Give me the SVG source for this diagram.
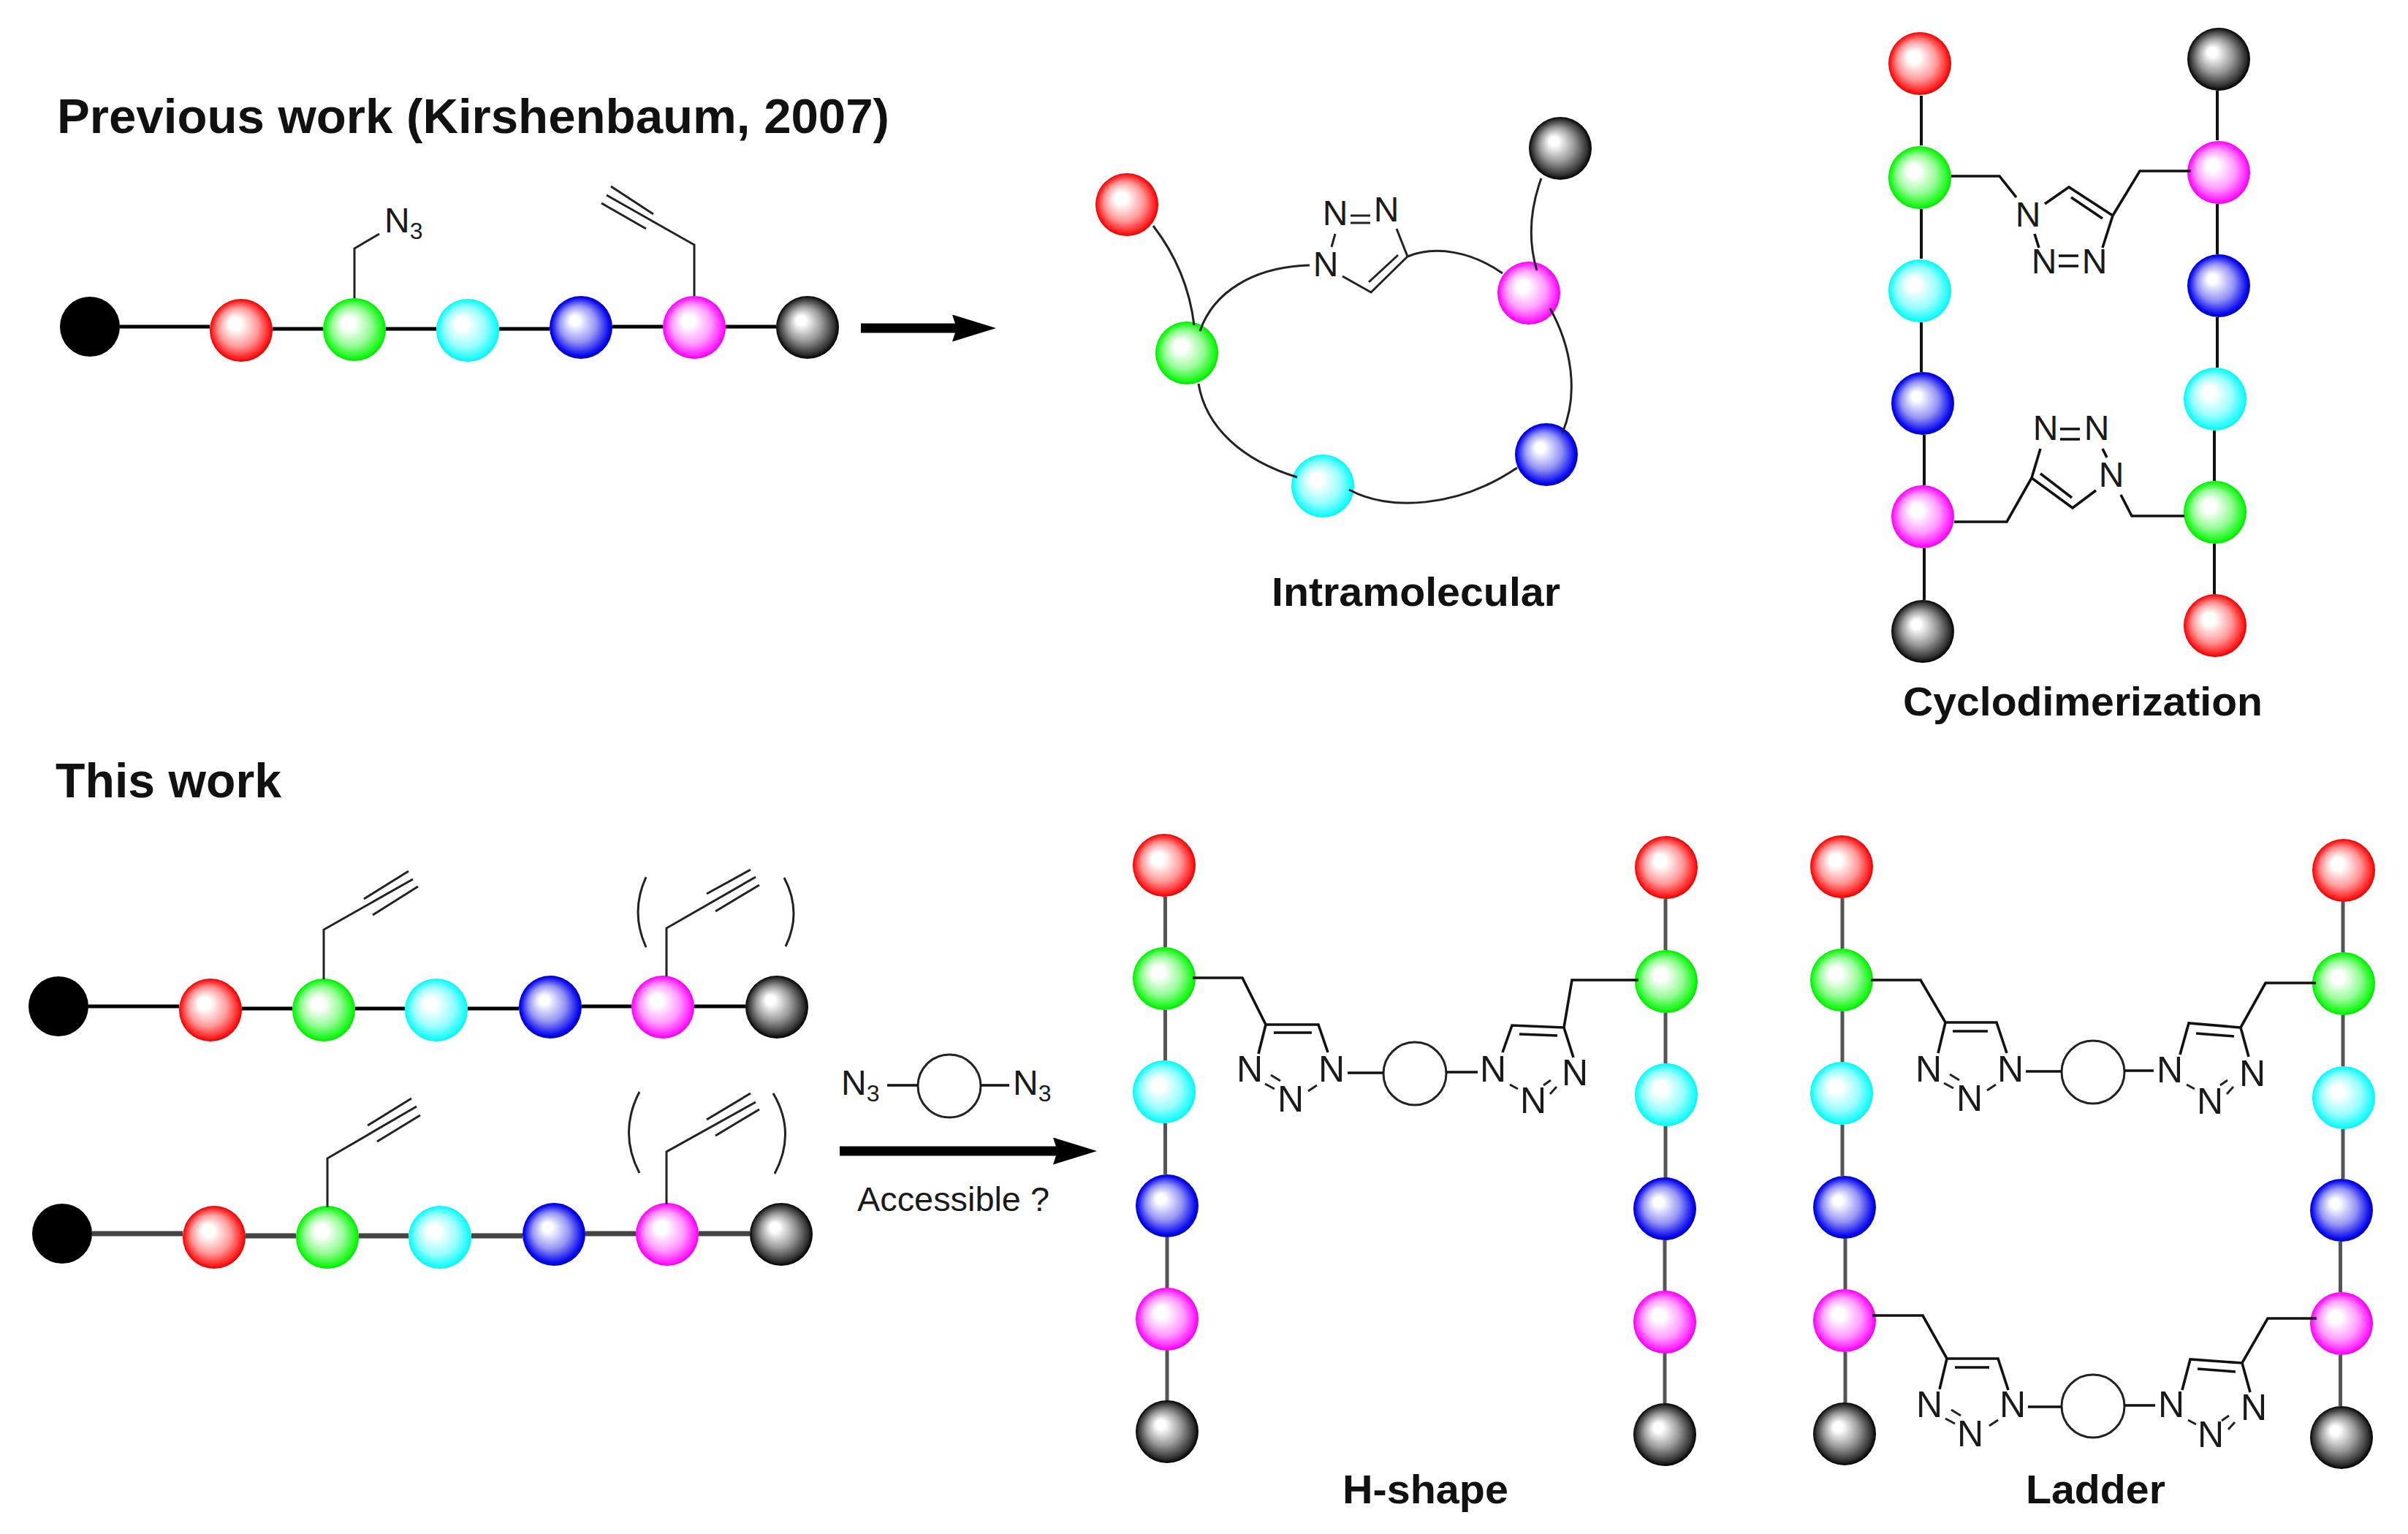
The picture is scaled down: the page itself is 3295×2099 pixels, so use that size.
<svg xmlns="http://www.w3.org/2000/svg" width="3295" height="2099" viewBox="0 0 3295 2099">
<style>
text{font-family:"Liberation Sans",Arial,sans-serif;fill:#1a1a1a}
.h{font-weight:bold;fill:#111}
.lab{font-size:56px;font-weight:bold;fill:#111}
.n{font-size:50px;text-anchor:middle}
.n2{font-size:48px;text-anchor:middle}
.r{fill:url(#gr)}.g{fill:url(#gg)}.c{fill:url(#gc)}.b{fill:url(#gb)}.m{fill:url(#gm)}.k{fill:url(#gk)}.d{fill:#000}
.chain{stroke:#000;stroke-width:5;fill:none}
.chainG{stroke:#444;stroke-width:7;fill:none}
.v{stroke:#111;stroke-width:4;fill:none}
.vG{stroke:#555;stroke-width:5;fill:none}
.bond{stroke:#222;stroke-width:3;fill:none}
.arm{stroke:#111;stroke-width:3.6;fill:none;stroke-linejoin:miter}
.curve{stroke:#222;stroke-width:3;fill:none}
.ring{stroke:#222;stroke-width:3;fill:#fff}
.arrow{stroke:#000;stroke-width:13;fill:none;marker-end:url(#head)}
</style>
<defs>
<radialGradient id="gr" cx="0.5" cy="0.5" r="0.5" fx="0.38" fy="0.37"><stop offset="0" stop-color="#fff"/><stop offset="0.2" stop-color="#fff"/><stop offset="0.62" stop-color="#ff9a9a"/><stop offset="0.94" stop-color="#ff1515"/><stop offset="1" stop-color="#d80000"/></radialGradient>
<radialGradient id="gg" cx="0.5" cy="0.5" r="0.5" fx="0.38" fy="0.37"><stop offset="0" stop-color="#fff"/><stop offset="0.2" stop-color="#fff"/><stop offset="0.62" stop-color="#96fb96"/><stop offset="0.94" stop-color="#10f810"/><stop offset="1" stop-color="#00e000"/></radialGradient>
<radialGradient id="gc" cx="0.5" cy="0.5" r="0.5" fx="0.38" fy="0.37"><stop offset="0" stop-color="#fff"/><stop offset="0.2" stop-color="#fff"/><stop offset="0.65" stop-color="#96fdfd"/><stop offset="0.96" stop-color="#10fbfb"/><stop offset="1" stop-color="#00f0f0"/></radialGradient>
<radialGradient id="gb" cx="0.5" cy="0.5" r="0.5" fx="0.38" fy="0.37"><stop offset="0" stop-color="#fff"/><stop offset="0.15" stop-color="#fff"/><stop offset="0.58" stop-color="#9494f4"/><stop offset="0.92" stop-color="#0a0af0"/><stop offset="1" stop-color="#0000b8"/></radialGradient>
<radialGradient id="gm" cx="0.5" cy="0.5" r="0.5" fx="0.38" fy="0.37"><stop offset="0" stop-color="#fff"/><stop offset="0.2" stop-color="#fff"/><stop offset="0.62" stop-color="#ff9cff"/><stop offset="0.95" stop-color="#ff10ff"/><stop offset="1" stop-color="#e800e8"/></radialGradient>
<radialGradient id="gk" cx="0.5" cy="0.5" r="0.5" fx="0.38" fy="0.37"><stop offset="0" stop-color="#fff"/><stop offset="0.15" stop-color="#fff"/><stop offset="0.55" stop-color="#9a9a9a"/><stop offset="0.88" stop-color="#333"/><stop offset="1" stop-color="#000"/></radialGradient>
<marker id="head" markerUnits="userSpaceOnUse" viewBox="0 0 60 37" refX="8" refY="18.5" markerWidth="60" markerHeight="37" orient="auto"><path d="M0 0L60 18.5L0 37L6 18.5Z" fill="#000"/></marker>
</defs>
<rect width="3295" height="2099" fill="#fff"/>

<text class="h" x="78" y="182" font-size="66" textLength="1139" lengthAdjust="spacingAndGlyphs">Previous work (Kirshenbaum, 2007)</text>
<text class="h" x="76" y="1091" font-size="66" textLength="309" lengthAdjust="spacingAndGlyphs">This work</text>
<text class="lab" x="1740" y="829" textLength="395" lengthAdjust="spacingAndGlyphs">Intramolecular</text>
<text class="lab" x="2604" y="979" textLength="492" lengthAdjust="spacingAndGlyphs">Cyclodimerization</text>
<text class="lab" x="1837" y="2057" textLength="227" lengthAdjust="spacingAndGlyphs">H-shape</text>
<text class="lab" x="2772" y="2057" textLength="191" lengthAdjust="spacingAndGlyphs">Ladder</text>

<g id="nodes">
<g id="c1-black"><circle class="d" cx="123" cy="447" r="41"/></g>
<g id="c1-red"><circle class="r" cx="330" cy="452" r="43"/></g>
<g id="c1-green"><circle class="g" cx="485" cy="451" r="43"/></g>
<g id="c1-cyan"><circle class="c" cx="640" cy="452" r="43"/></g>
<g id="c1-blue"><circle class="b" cx="795" cy="448" r="43"/></g>
<g id="c1-magenta"><circle class="m" cx="950" cy="448" r="43"/></g>
<g id="c1-gray"><circle class="k" cx="1105" cy="448" r="43"/></g>

<g id="im-red"><circle class="r" cx="1542" cy="280" r="43"/></g>
<g id="im-gray"><circle class="k" cx="2135" cy="203" r="43"/></g>
<g id="im-green"><circle class="g" cx="1624" cy="483" r="43"/></g>
<g id="im-magenta"><circle class="m" cx="2092" cy="401" r="43"/></g>
<g id="im-blue"><circle class="b" cx="2116" cy="622" r="43"/></g>
<g id="im-cyan"><circle class="c" cx="1810" cy="665" r="43"/></g>

<g id="cy-l-red"><circle class="r" cx="2627" cy="87" r="43"/></g>
<g id="cy-l-green"><circle class="g" cx="2627" cy="243" r="43"/></g>
<g id="cy-l-cyan"><circle class="c" cx="2627" cy="398" r="43"/></g>
<g id="cy-l-blue"><circle class="b" cx="2631" cy="552" r="43"/></g>
<g id="cy-l-magenta"><circle class="m" cx="2631" cy="707" r="43"/></g>
<g id="cy-l-gray"><circle class="k" cx="2631" cy="864" r="43"/></g>
<g id="cy-r-gray"><circle class="k" cx="3036" cy="81" r="43"/></g>
<g id="cy-r-magenta"><circle class="m" cx="3036" cy="236" r="43"/></g>
<g id="cy-r-blue"><circle class="b" cx="3036" cy="391" r="43"/></g>
<g id="cy-r-cyan"><circle class="c" cx="3031" cy="546" r="43"/></g>
<g id="cy-r-green"><circle class="g" cx="3031" cy="701" r="43"/></g>
<g id="cy-r-red"><circle class="r" cx="3031" cy="856" r="43"/></g>

<g id="c2-black"><circle class="d" cx="80" cy="1377" r="41"/></g>
<g id="c2-red"><circle class="r" cx="288" cy="1382" r="43"/></g>
<g id="c2-green"><circle class="g" cx="443" cy="1382" r="43"/></g>
<g id="c2-cyan"><circle class="c" cx="597" cy="1382" r="43"/></g>
<g id="c2-blue"><circle class="b" cx="753" cy="1378" r="43"/></g>
<g id="c2-magenta"><circle class="m" cx="907" cy="1378" r="43"/></g>
<g id="c2-gray"><circle class="k" cx="1063" cy="1378" r="43"/></g>

<g id="c3-black"><circle class="d" cx="85" cy="1688" r="41"/></g>
<g id="c3-red"><circle class="r" cx="293" cy="1693" r="43"/></g>
<g id="c3-green"><circle class="g" cx="448" cy="1693" r="43"/></g>
<g id="c3-cyan"><circle class="c" cx="602" cy="1693" r="43"/></g>
<g id="c3-blue"><circle class="b" cx="758" cy="1689" r="43"/></g>
<g id="c3-magenta"><circle class="m" cx="913" cy="1689" r="43"/></g>
<g id="c3-gray"><circle class="k" cx="1069" cy="1689" r="43"/></g>

<g id="h-l-red"><circle class="r" cx="1593" cy="1184" r="43"/></g>
<g id="h-l-green"><circle class="g" cx="1593" cy="1339" r="43"/></g>
<g id="h-l-cyan"><circle class="c" cx="1593" cy="1494" r="43"/></g>
<g id="h-l-blue"><circle class="b" cx="1597" cy="1650" r="43"/></g>
<g id="h-l-magenta"><circle class="m" cx="1597" cy="1805" r="43"/></g>
<g id="h-l-gray"><circle class="k" cx="1597" cy="1959" r="43"/></g>
<g id="h-r-red"><circle class="r" cx="2280" cy="1187" r="43"/></g>
<g id="h-r-green"><circle class="g" cx="2280" cy="1343" r="43"/></g>
<g id="h-r-cyan"><circle class="c" cx="2280" cy="1498" r="43"/></g>
<g id="h-r-blue"><circle class="b" cx="2278" cy="1654" r="43"/></g>
<g id="h-r-magenta"><circle class="m" cx="2278" cy="1809" r="43"/></g>
<g id="h-r-gray"><circle class="k" cx="2278" cy="1963" r="43"/></g>

<g id="l-l-red"><circle class="r" cx="2520" cy="1186" r="43"/></g>
<g id="l-l-green"><circle class="g" cx="2520" cy="1341" r="43"/></g>
<g id="l-l-cyan"><circle class="c" cx="2520" cy="1496" r="43"/></g>
<g id="l-l-blue"><circle class="b" cx="2524" cy="1652" r="43"/></g>
<g id="l-l-magenta"><circle class="m" cx="2524" cy="1807" r="43"/></g>
<g id="l-l-gray"><circle class="k" cx="2524" cy="1962" r="43"/></g>
<g id="l-r-red"><circle class="r" cx="3207" cy="1191" r="43"/></g>
<g id="l-r-green"><circle class="g" cx="3207" cy="1346" r="43"/></g>
<g id="l-r-cyan"><circle class="c" cx="3207" cy="1502" r="43"/></g>
<g id="l-r-blue"><circle class="b" cx="3204" cy="1656" r="43"/></g>
<g id="l-r-magenta"><circle class="m" cx="3204" cy="1811" r="43"/></g>
<g id="l-r-gray"><circle class="k" cx="3204" cy="1967" r="43"/></g>

<g id="linker-reagent"><circle class="ring" cx="1299" cy="1486" r="43"/></g>
<g id="linker-h"><circle class="ring" cx="1936" cy="1469" r="43"/></g>
<g id="linker-l-top"><circle class="ring" cx="2864" cy="1467" r="43"/></g>
<g id="linker-l-bottom"><circle class="ring" cx="2864" cy="1924" r="43"/></g>
</g>

<g id="connectors">
<path class="chain" d="M164 447H287M373 450H442M528 450H597M683 450H752M838 447H907M993 447H1062"/>
<path class="bond" d="M485 408V340L519 320M950 405V335L830 267M894 293L836 255M884 313L823 278"/>
<path class="arrow" d="M1178 449H1311"/>

<path class="curve" d="M1578 309Q1625 370 1634 445M2109 244Q2085 310 2103 370M1642 453C1660 400 1715 365 1792 363M1926 351C1965 335 2015 345 2056 374M2121 422C2148 470 2162 535 2138 592M2076 640C1995 695 1900 700 1846 670M1775 653C1700 630 1650 585 1640 525"/>
<path class="bond" d="M1837 378L1876 400L1926 351L1911 313M1873 386L1913 349M1848 295H1875M1848 305H1875M1827 320L1822 338"/>

<path class="v" d="M2629 131V199M2629 286V354M2629 441V509M2633 595V664M2633 750V821M3034 124V192M3034 279V348M3034 434V503M3030 589V658M3030 744V813"/>
<path class="arm" d="M2670 241H2736L2759 270M2798 279L2831 256L2891 295L2877 339M2834 270L2877 299M2891 295L2928 234H2998M2784 320L2790 339M2817 350H2844M2817 364H2844"/>
<path class="arm" d="M2674 714H2746L2780 654L2792 614M2780 654L2836 695L2868 671M2792 648L2835 681M2902 677L2917 706H2989M2877 614L2883 626M2819 587H2846M2819 601H2846"/>

<path class="chain" d="M121 1377H245M331 1380H400M486 1380H554M640 1380H710M796 1377H864M950 1377H1020"/>
<path class="bond" d="M443 1340V1272L565 1203M498 1230L559 1192M510 1252L572 1213M912 1336V1270L1034 1200M967 1223L1027 1190M979 1247L1039 1211"/>
<path class="bond" d="M884 1200Q862 1248 884 1296M1073 1201Q1098 1248 1075 1295"/>
<path class="chainG" d="M126 1688H250M336 1691H405M491 1691H559M645 1691H715M801 1688H870M956 1688H1026"/>
<path class="bond" d="M448 1652V1585L570 1514M503 1540L563 1503M516 1562L575 1526M912 1648V1576L1034 1508M967 1532L1027 1496M979 1554L1039 1518"/>
<path class="bond" d="M875 1494Q846 1550 875 1605M1058 1496Q1090 1550 1060 1606"/>
<path class="arm" d="M1214 1485H1256M1342 1485H1381"/>
<path class="arrow" d="M1149 1575H1449"/>

<path class="vG" d="M1594.500 1227V1296M1594.500 1382V1451M1594.500 1537V1607M1597 1693V1762M1597 1848V1916M2279 1230V1300M2279 1386V1455M2279 1541V1611M2278 1697V1766M2278 1852V1920"/>
<path class="arm" d="M1632 1338H1700L1732 1402H1804L1817 1440M1722 1442L1732 1402M1743 1413H1795M1844 1468H1893M1979 1467H2022"/>
<path class="bond" d="M1731 1483L1744 1490M1739 1471L1752 1479M1790 1493L1802 1485"/>
<path class="arm" d="M2242 1341H2151L2140 1406L2069 1403L2056 1440M2140 1406L2153 1447M2079 1415L2131 1417"/>
<path class="bond" d="M2066 1484L2077 1490M2122 1478L2112 1485M2130 1487L2121 1497"/>

<path class="vG" d="M2521 1229V1298M2521 1384V1453M2521 1539V1609M2525 1695V1764M2525 1850V1919M3206 1234V1303M3206 1389V1459M3206 1545V1613M3202.500 1699V1768M3202.500 1854V1924"/>
<path class="arm" d="M2560 1341H2628L2662 1399H2732L2746 1441M2652 1441L2662 1399M2672 1411H2720M2772 1466H2821M2907 1465H2947"/>
<path class="bond" d="M2660 1482L2673 1489M2668 1470L2681 1478M2719 1492L2731 1484"/>
<path class="arm" d="M3169 1345H3100L3066 1406L2995 1400L2983 1443M3066 1406L3077 1446M3005 1414L3057 1418"/>
<path class="bond" d="M2992 1484L3003 1490M3048 1478L3038 1485M3056 1487L3047 1497"/>
<path class="arm" d="M2562 1800H2631L2664 1859H2734L2748 1902M2654 1901L2664 1859M2675 1871H2722M2775 1925H2821M2907 1923H2949"/>
<path class="bond" d="M2662 1941L2675 1948M2670 1929L2683 1937M2722 1951L2734 1943"/>
<path class="arm" d="M3170 1804H3103L3068 1865L2997 1860L2986 1902M3068 1865L3079 1905M3007 1873L3059 1877"/>
<path class="bond" d="M2994 1943L3005 1949M3050 1937L3040 1944M3058 1946L3049 1956"/>
</g>

<g id="labels">
<text x="526" y="318" font-size="48">N<tspan font-size="32" dy="9">3</tspan></text>
<text x="1151" y="1498" font-size="48">N<tspan font-size="32" dy="9">3</tspan></text>
<text x="1386" y="1498" font-size="48">N<tspan font-size="32" dy="9">3</tspan></text>
<text x="1173" y="1657" font-size="46" textLength="263" lengthAdjust="spacingAndGlyphs">Accessible ?</text>

<text class="n2" x="1814" y="378">N</text><text class="n2" x="1827" y="308">N</text><text class="n2" x="1897" y="303">N</text>

<text class="n2" x="2775" y="310">N</text><text class="n2" x="2797" y="374">N</text><text class="n2" x="2866" y="374">N</text>
<text class="n2" x="2799" y="602">N</text><text class="n2" x="2869" y="602">N</text><text class="n2" x="2889" y="666">N</text>

<text class="n" x="1710" y="1480">N</text><text class="n" x="1822" y="1480">N</text><text class="n" x="1766" y="1521">N</text>
<text class="n" x="2043" y="1480">N</text><text class="n" x="2155" y="1485">N</text><text class="n" x="2098" y="1523">N</text>

<text class="n" x="2639" y="1480">N</text><text class="n" x="2751" y="1480">N</text><text class="n" x="2695" y="1520">N</text>
<text class="n" x="2969" y="1481">N</text><text class="n" x="3082" y="1486">N</text><text class="n" x="3024" y="1524">N</text>
<text class="n" x="2640" y="1939">N</text><text class="n" x="2754" y="1939">N</text><text class="n" x="2696" y="1979">N</text>
<text class="n" x="2971" y="1939">N</text><text class="n" x="3084" y="1943">N</text><text class="n" x="3025" y="1980">N</text>
</g>
</svg>
